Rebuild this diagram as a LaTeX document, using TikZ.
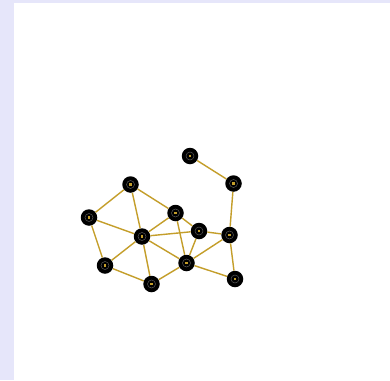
\documentclass[tikz,border=0pt]{standalone}
\definecolor{bgband}{RGB}{230,230,250}
\definecolor{edgegold}{RGB}{196,158,42}
\tikzset{
  vertex/.style = {circle, fill=black, minimum size=16.5pt, inner sep=0pt,
    path picture={
      \draw[black!65, line width=0.5pt] (path picture bounding box.center) circle (4pt);
      \fill[edgegold] ([shift={(-1.3pt,-1.3pt)}]path picture bounding box.center) rectangle +(2.6pt,2.6pt);
    }},
  link/.style = {edgegold, line width=1.4pt}
}
\begin{document}
\begin{tikzpicture}[x=1pt, y=-1pt]
        \fill[bgband] (0,0) rectangle (390,380);
        \fill[white] (14,3) rectangle (390,380);
        \node[vertex] (a) at (190,156) {};
        \node[vertex] (b) at (233.5,183.5) {};
        \node[vertex] (c) at (130.5,184.5) {};
        \node[vertex] (d) at (89,217.5) {};
        \node[vertex] (e) at (175.5,213) {};
        \node[vertex] (f) at (142,236.5) {};
        \node[vertex] (g) at (199,231) {};
        \node[vertex] (h) at (229.5,235) {};
        \node[vertex] (i) at (105,265.5) {};
        \node[vertex] (j) at (186.5,263) {};
        \node[vertex] (k) at (151.5,284) {};
        \node[vertex] (l) at (235,279) {};
        \draw[link] (a) -- (b);
        \draw[link] (b) -- (h);
        \draw[link] (c) -- (d);
        \draw[link] (c) -- (e);
        \draw[link] (c) -- (f);
        \draw[link] (d) -- (f);
        \draw[link] (d) -- (i);
        \draw[link] (e) -- (f);
        \draw[link] (e) -- (g);
        \draw[link] (e) -- (j);
        \draw[link] (f) -- (g);
        \draw[link] (f) -- (i);
        \draw[link] (f) -- (j);
        \draw[link] (f) -- (k);
        \draw[link] (g) -- (h);
        \draw[link] (g) -- (j);
        \draw[link] (h) -- (j);
        \draw[link] (h) -- (l);
        \draw[link] (i) -- (k);
        \draw[link] (j) -- (k);
        \draw[link] (j) -- (l);
    \end{tikzpicture}
\end{document}
